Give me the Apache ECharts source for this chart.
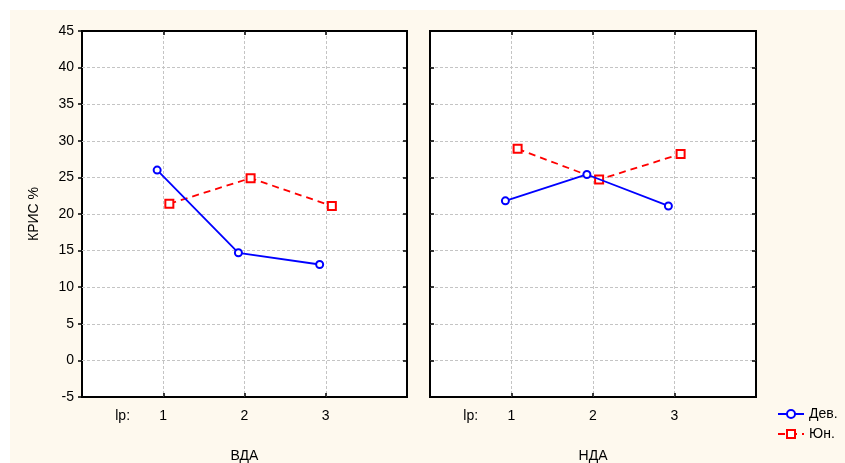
<!DOCTYPE html>
<html>
<head>
<meta charset="utf-8">
<script src="https://cdn.jsdelivr.net/npm/echarts@6/dist/echarts.min.js"></script>
<style>
  html, body { margin: 0; padding: 0; background: #ffffff; }
  #bg { position: absolute; left: 10px; top: 10px; width: 835px; height: 453px; background: #fef9ee; }
  #chart { position: absolute; left: 0; top: 0; width: 845px; height: 463px; }
</style>
</head>
<body>
<div id="bg"></div>
<div id="chart"></div>
<script>
// ---- data ----
const categories = [1, 2, 3];
const groupLabel = 'lp:';
const panelTitles = ['ВДА', 'НДА'];
const seriesNames = ['Дев.', 'Юн.'];
const devVDA = [26.0, 14.7, 13.1];
const yunVDA = [21.4, 24.9, 21.1];
const devNDA = [21.8, 25.4, 21.1];
const yunNDA = [28.9, 24.7, 28.2];
const yMin = -5, yMax = 45, yStep = 5;

// ---- layout / style ----
const FONT = '"Liberation Sans", Arial, sans-serif';
const FS = 14;
const DEV_OFFSET = -0.075, YUN_OFFSET = 0.075;
const grids = [
  { left: 82, top: 31, width: 325, height: 366 },
  { left: 430, top: 31, width: 326, height: 366 }
];
const gridLine = { color: '#c4c4c4', width: 1, type: [3, 2] };
const tickStyle = { color: '#000', width: 1.5 };

const toPts = (vals, off) => categories.map((c, i) => [c + off, vals[i]]);

const xAxes = [], yAxes = [];
grids.forEach((g, gi) => {
  xAxes.push({
    gridIndex: gi, type: 'value', position: 'bottom', min: 0, max: 4, interval: 0.5,
    axisLine: { show: false, onZero: false }, axisTick: { show: false }, splitLine: { show: false },
    axisLabel: {
      margin: 12, color: '#000', fontFamily: FONT, fontSize: FS,
      showMinLabel: false, showMaxLabel: false,
      formatter: v => (v === 0.5 ? groupLabel : (categories.includes(v) ? String(v) : ''))
    },
    name: panelTitles[gi], nameLocation: 'middle', nameGap: 52,
    nameTextStyle: { color: '#000', fontFamily: FONT, fontSize: FS }
  });
  xAxes.push({
    gridIndex: gi, type: 'value', position: 'bottom', min: 0, max: 4, interval: 1,
    axisLine: { show: false, onZero: false }, axisLabel: { show: false },
    axisTick: { show: true, inside: true, length: 4, lineStyle: tickStyle },
    splitLine: { show: true, showMinLine: false, showMaxLine: false, lineStyle: gridLine }
  });
  xAxes.push({
    gridIndex: gi, type: 'value', position: 'top', min: 0, max: 4, interval: 1,
    axisLine: { show: false, onZero: false }, axisLabel: { show: false },
    axisTick: { show: true, inside: true, length: 4, lineStyle: tickStyle },
    splitLine: { show: false }
  });
  yAxes.push({
    gridIndex: gi, type: 'value', position: 'left', min: yMin, max: yMax, interval: yStep,
    axisLine: { show: false, onZero: false },
    axisTick: { show: true, inside: gi === 1, length: 4, lineStyle: tickStyle },
    axisLabel: { show: gi === 0, margin: 8, color: '#000', fontFamily: FONT, fontSize: FS },
    splitLine: { show: true, showMinLine: false, showMaxLine: false, lineStyle: gridLine },
    name: gi === 0 ? 'КРИС %' : '', nameLocation: 'middle', nameGap: 41, nameRotate: 90,
    nameTextStyle: { color: '#000', fontFamily: FONT, fontSize: FS }
  });
  yAxes.push({
    gridIndex: gi, type: 'value', position: 'right', min: yMin, max: yMax, interval: yStep,
    axisLine: { show: false, onZero: false },
    axisTick: { show: true, inside: true, length: 4, lineStyle: tickStyle },
    axisLabel: { show: false }, splitLine: { show: false }
  });
});

const devStyle = (data, gi) => ({
  name: seriesNames[0], type: 'line', xAxisIndex: gi * 3, yAxisIndex: gi * 2,
  data, symbol: 'emptyCircle', symbolSize: 7,
  itemStyle: { color: '#0000ff', borderWidth: 1.2 },
  lineStyle: { color: '#0000ff', width: 1.8 }, z: 5
});
const yunStyle = (data, gi) => ({
  name: seriesNames[1], type: 'line', xAxisIndex: gi * 3, yAxisIndex: gi * 2,
  data, symbol: 'emptyRect', symbolSize: 8,
  itemStyle: { color: '#ff0000', borderWidth: 1.2 },
  lineStyle: { color: '#ff0000', width: 1.8, type: [7, 5] }, z: 4
});

const chart = echarts.init(document.getElementById('chart'));
chart.setOption({
  backgroundColor: 'transparent',
  animation: false,
  textStyle: { fontFamily: FONT },
  grid: grids.map(g => Object.assign({
    show: true, backgroundColor: '#ffffff', borderColor: '#000', borderWidth: 2,
    containLabel: false, outerBoundsMode: 'none'
  }, g)),
  xAxis: xAxes,
  yAxis: yAxes,
  legend: {
    orient: 'vertical', left: 772, top: 402, itemWidth: 26, itemHeight: 10, itemGap: 6,
    data: seriesNames,
    textStyle: { color: '#000', fontFamily: FONT, fontSize: FS }
  },
  series: [
    devStyle(toPts(devVDA, DEV_OFFSET), 0),
    yunStyle(toPts(yunVDA, YUN_OFFSET), 0),
    devStyle(toPts(devNDA, DEV_OFFSET), 1),
    yunStyle(toPts(yunNDA, YUN_OFFSET), 1)
  ]
});
</script>
</body>
</html>
